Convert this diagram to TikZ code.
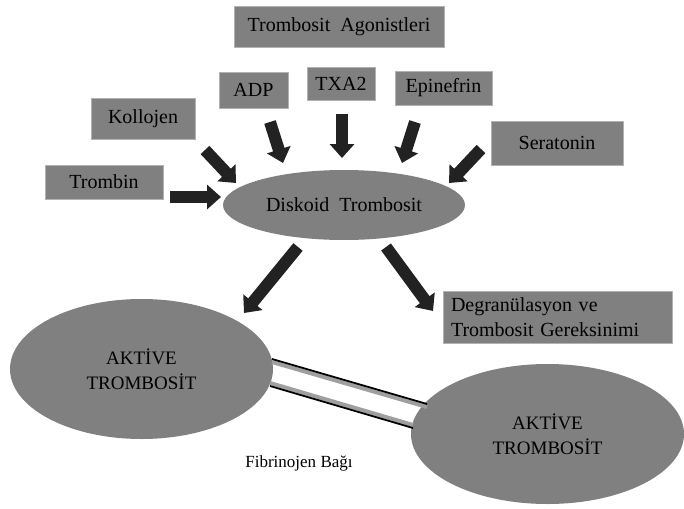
\documentclass[tikz,border=0pt]{standalone}
\usepackage{fontspec}
\setmainfont{Liberation Serif}
\usetikzlibrary{arrows.meta, shapes.geometric}
\definecolor{plategray}{RGB}{128,128,128}
\definecolor{arrowdark}{RGB}{34,34,34}

\begin{document}
\begin{tikzpicture}
	[x=1pt, y=-1pt,
	 agent/.style={rectangle, fill=plategray, draw=gray!60, inner sep=0pt, font=\fontsize{20}{25}\selectfont},
	 cell/.style={ellipse, fill=plategray, inner sep=0pt, align=center, font=\fontsize{19}{25}\selectfont},
	 push/.style={draw=arrowdark, line width=12pt, -{Triangle[width=24pt,length=14pt]}},
	 bondgray/.style={draw=gray!75, line width=4pt},
	 bondblack/.style={draw=black, line width=1.8pt}]
   \useasboundingbox (0,0) rectangle (684,508);

   % agonist boxes
   \node[agent, minimum width=210pt, minimum height=41pt] (agon) at (339,26.5) {Trombosit\ \ Agonistleri};
   \node[agent, minimum width=69pt, minimum height=36pt] (adp) at (253.5,90) {ADP};
   \node[agent, minimum width=68pt, minimum height=33pt] (txa) at (341,83.5) {TXA2};
   \node[agent, minimum width=97pt, minimum height=34pt] (epi) at (443.5,88) {Epinefrin};
   \node[agent, minimum width=104pt, minimum height=41pt] (kol) at (143,118.5) {Kollojen};
   \node[agent, minimum width=118pt, minimum height=34pt] (tromb) at (104,182) {Trombin};
   \node[agent, minimum width=132pt, minimum height=44pt] (sera) at (557,143) {Seratonin};
   \node[agent, minimum width=229pt, minimum height=52pt, align=left, text width=213pt] (degr) at (557.5,317)
        {Degranülasyon ve\\Trombosit Gereksinimi};

   % cells
   \node[cell, minimum width=242pt, minimum height=70pt, font=\fontsize{20}{25}\selectfont] (disk) at (344,205) {Diskoid\ \ Trombosit};
   \node[cell, minimum width=263pt, minimum height=140pt] (akt1) at (141.5,369) {AKTİVE\\TROMBOSİT};
   \node[cell, minimum width=273pt, minimum height=140pt] (akt2) at (547.5,434) {AKTİVE\\TROMBOSİT};
   \node[font=\fontsize{17}{20}\selectfont] (fib) at (299,463) {Fibrinojen Bağı};

   % arrow ends
   \coordinate (tromb-s) at (170,197); \coordinate (tromb-e) at (221,197);
   \coordinate (kol-s) at (205,150);   \coordinate (kol-e) at (236,183);
   \coordinate (adp-s) at (270,122);   \coordinate (adp-e) at (283,163);
   \coordinate (txa-s) at (342,114);   \coordinate (txa-e) at (342,158);
   \coordinate (epi-s) at (415,122);   \coordinate (epi-e) at (402,163);
   \coordinate (sera-s) at (481,149);  \coordinate (sera-e) at (449,183);
   \coordinate (left-s) at (298,247);  \coordinate (left-e) at (244,313);
   \coordinate (right-s) at (386,247); \coordinate (right-e) at (433,311);

   \draw[push] (tromb-s) -- (tromb-e);
   \draw[push] (kol-s) -- (kol-e);
   \draw[push] (adp-s) -- (adp-e);
   \draw[push] (txa-s) -- (txa-e);
   \draw[push] (epi-s) -- (epi-e);
   \draw[push] (sera-s) -- (sera-e);
   \draw[push] (left-s) -- (left-e);
   \draw[push] (right-s) -- (right-e);

   % fibrinogen bond
   \coordinate (b1-s) at (272,360); \coordinate (b1-e) at (427,405);
   \coordinate (b2-s) at (270,385); \coordinate (b2-e) at (413,427);
   \draw[bondgray] ([yshift=-2pt]b1-s) -- ([yshift=-2pt]b1-e);
   \draw[bondblack] ([yshift=1pt]b1-s) -- ([yshift=1pt]b1-e);
   \draw[bondgray] ([yshift=2pt]b2-s) -- ([yshift=2pt]b2-e);
   \draw[bondblack] ([yshift=-1pt]b2-s) -- ([yshift=-1pt]b2-e);
\end{tikzpicture}
\end{document}
